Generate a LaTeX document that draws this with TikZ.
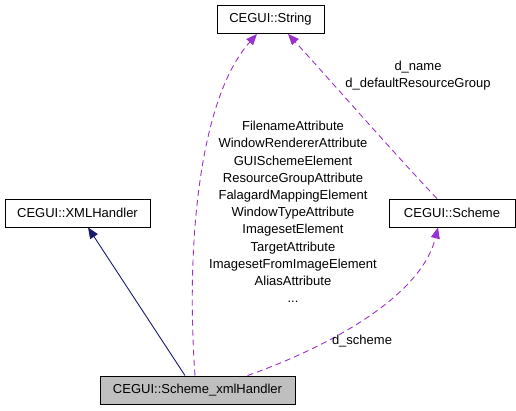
\documentclass[tikz,border=0pt]{standalone}
\usepackage{fontspec}
\setmainfont{Liberation Sans}
\usetikzlibrary{arrows.meta}
\definecolor{edgepurple}{HTML}{9A32CD}
\definecolor{edgenavy}{HTML}{191970}
\tikzset{
  cls/.style={draw=black, line width=0.9pt, fill=white, inner sep=0pt, minimum height=28pt, font=\fontsize{13}{17}\selectfont},
  usedge/.style={edgepurple, line width=0.9pt, dash pattern=on 6pt off 4pt, -{Triangle[length=11pt,width=9pt]}},
  inhedge/.style={edgenavy, line width=0.9pt, -{Triangle[length=11pt,width=9pt]}},
  lbl/.style={font=\fontsize{13}{17.2}\selectfont, align=center, inner sep=0pt}
}
\begin{document}
\begin{tikzpicture}[x=1pt,y=1pt]
\useasboundingbox (0,0) rectangle (516,-411);
\node[cls, minimum width=107pt] (str) at (270.5,-19.5) {CEGUI::String};
\node[cls, minimum width=145pt] (xml) at (77.5,-213) {CEGUI::XMLHandler};
\node[cls, minimum width=126pt] (sch) at (452,-213) {CEGUI::Scheme};
\node[cls, minimum width=195pt, fill={rgb,255:red,191;green,191;blue,191}] (xh) at (197.5,-390) {CEGUI::Scheme\_xmlHandler};

\draw[inhedge] ([xshift=-12.5pt]xh.north) -- ([xshift=10.5pt]xml.south);
\draw[usedge] ([xshift=-2.5pt]xh.north) .. controls (186,-250) and (198,-100) .. ([xshift=-13.5pt]str.south);
\draw[usedge] ([xshift=-15pt]sch.north) .. controls (400,-160) and (330,-80) .. ([xshift=17.5pt]str.south);
\draw[usedge] ([xshift=50pt]xh.north) .. controls (320,-350) and (420,-300) .. ([xshift=-14pt]sch.south);

\node[lbl] (lstr) at (293,-212) {FilenameAttribute\\WindowRendererAttribute\\GUISchemeElement\\ResourceGroupAttribute\\FalagardMappingElement\\WindowTypeAttribute\\ImagesetElement\\TargetAttribute\\ImagesetFromImageElement\\AliasAttribute\\...};
\node[lbl] (lname) at (418,-75.5) {d\_name\\d\_defaultResourceGroup};
\node[lbl] (lsch) at (362,-341) {d\_scheme};
\end{tikzpicture}
\end{document}
